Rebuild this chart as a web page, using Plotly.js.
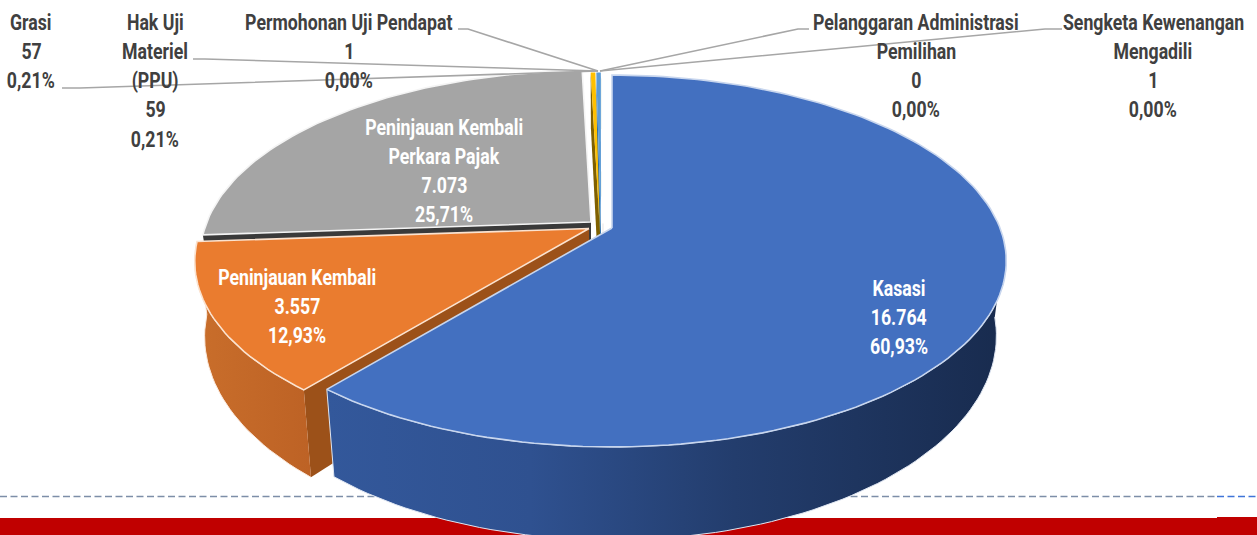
<!DOCTYPE html>
<html><head><meta charset="utf-8">
<script src="https://cdn.plot.ly/plotly-3.0.1.min.js"></script>
<style>html,body{margin:0;padding:0;background:#fff;overflow:hidden}#c{width:1257px;height:535px}</style>
</head><body><div id="c"></div>
<script>
// ---- data ----
const categories = ["Kasasi","Peninjauan Kembali","Peninjauan Kembali Perkara Pajak","Hak Uji Materiel (PPU)","Grasi","Permohonan Uji Pendapat","Pelanggaran Administrasi Pemilihan","Sengketa Kewenangan Mengadili"];
const labelLines = [["Kasasi"],["Peninjauan Kembali"],["Peninjauan Kembali","Perkara Pajak"],["Hak Uji","Materiel","(PPU)"],["Grasi"],["Permohonan Uji Pendapat"],["Pelanggaran Administrasi","Pemilihan"],["Sengketa Kewenangan","Mengadili"]];
const values = [16764,3557,7073,59,57,1,0,1];
const faceColors = ["#4370c0","#ea7c2f","#a5a5a5","#ffc000","#5b9bd5","#70ad47","#264478","#9e480e"];
const cutColors  = ["#2f528f","#9c5119","#3a3a3a","#7f6000","#2e6da4","#4f7a32","#1a2f55","#6f320a"];
// ---- layout of the 3D drawing, in page pixels ----
const apex = [[612,228],[589,228.5],[591,222],[600,233],[601,233],[602,233],[603,233],[604,233]];
const faceScale = [1,1,0.99,1.05,1.05,1.05,1.05,1.05];
const A=388,B=180.1,P=0.1774,DEPTH=71.6,BOTTOM_X=0.975,BOTTOM_Y=1.098;
const labelPos=[[899,288],[297,277],[444,127],[155,22],[31,22],[349,22],[916,22],[1153,22]];
const LINE=29.3;
const TEXT_SQUEEZE=0.805;
const leaders=[null,null,null,[[193,59],[205,59],[598,71]],[[62,88],[80,88],[598,71]],[[458,29],[468,29],[598,71]],[[809,29],[798,29],[600,71]],[[1062,29],[1045,29],[600,71]]];

const total=values.reduce((a,b)=>a+b,0);
const fmtV=v=>String(v).replace(/\B(?=(\d{3})+$)/g,".");
const fmtP=v=>(v/total*100).toFixed(2).replace(".",",")+"%";
const rad=d=>d*Math.PI/180;
function pt(i,deg,sx,sy,dz){const u=Math.sin(rad(deg)),v=Math.cos(rad(deg)),w=1+P*v,f=faceScale[i];
  return [apex[i][0]+A*f*sx*u/w, apex[i][1]+dz-B*f*sy*v/w];}
function arc(i,a0,a1,sx,sy,dz){const n=Math.max(2,Math.ceil(Math.abs(a1-a0)/1.5)),o=[];
  for(let k=0;k<=n;k++)o.push(pt(i,a0+(a1-a0)*k/n,sx,sy,dz));return o;}
function poly(points,extra){return Object.assign({type:"scatter",mode:"lines",x:points.map(p=>p[0]),y:points.map(p=>p[1]),
  fill:"toself",hoverinfo:"skip",showlegend:false},extra);}

let cum=0;const spans=values.map(v=>{const s=[cum,cum+v/total*360];cum=s[1];return s;});
const traces=[];
const order=[7,6,5,4,3,2,1,0];
const sideFill={
 0:{colorscale:[[0,"#33589b"],[0.3,"#2f5190"],[0.6,"#233d6d"],[1,"#182b4e"]],type:"horizontal"},
 1:{colorscale:[[0,"#c96e2b"],[1,"#bd6225"]],type:"horizontal"}
};
order.forEach(i=>{
  const [a0,a1]=spans[i];
  if(i!==0){
    const c=[pt(i,a0,1,1,0),apex[i],[apex[i][0],apex[i][1]+DEPTH],pt(i,a0,BOTTOM_X,BOTTOM_Y,DEPTH)];
    traces.push(poly(c,{name:categories[i]+" cut",fillcolor:cutColors[i],line:{width:0,color:cutColors[i]}}));
  }
  if(i<=1){
    const st=i===0?95:a0;
    const wall=arc(i,st,a1,1,1,0).concat(arc(i,a1,st,BOTTOM_X,BOTTOM_Y,DEPTH));
    traces.push(poly(wall,{name:categories[i]+" wall",fillcolor:i===0?"#2f5190":"#c46829",fillgradient:sideFill[i],
      line:{width:1,color:i===0?"#dfe6f2":"#fbe9dc"}}));
  }
  const face=[apex[i]].concat(arc(i,a0,a1,1,1,0));face.push(apex[i]);
  const edge={0:"#c8d6ee",1:"#fbe3d0",2:"#f4f4f4"}[i];
  traces.push(poly(face,{name:categories[i],fillcolor:faceColors[i],
    line:edge?{width:1.6,color:edge}:{width:0,color:faceColors[i]}}));
});
leaders.forEach(l=>{ if(!l) return;
  traces.push({type:"scatter",mode:"lines",x:l.map(p=>p[0]),y:l.map(p=>p[1]),hoverinfo:"skip",showlegend:false,
    line:{color:"#a6a6a6",width:1.6}});
});
const annotations=[];
categories.forEach((c,i)=>{
  const lines=labelLines[i].concat([fmtV(values[i]),fmtP(values[i])]);
  lines.forEach((t,k)=>annotations.push({xref:"x",yref:"y",x:labelPos[i][0],y:labelPos[i][1]+k*LINE,text:t,
    showarrow:false,xanchor:"center",yanchor:"middle",
    font:{family:"Roboto, 'Liberation Sans', sans-serif",size:22,weight:700,color:i<3?"#ffffff":"#404040"}}));
});
const shapes=[
 {type:"rect",layer:"below",xref:"x",yref:"y",x0:0,x1:1257,y0:518,y1:535,fillcolor:"#c00000",line:{width:0}},
 {type:"rect",layer:"below",xref:"x",yref:"y",x0:1217,x1:1257,y0:517,y1:535,fillcolor:"#c00000",line:{width:0}},
 {type:"line",layer:"below",xref:"x",yref:"y",x0:0,x1:1217,y0:496.5,y1:496.5,line:{color:"#7d8ea8",width:1.3,dash:"7px,3.5px"}},
 {type:"line",layer:"below",xref:"x",yref:"y",x0:1217,x1:1257,y0:496.5,y1:496.5,line:{color:"#3f74d8",width:1.3,dash:"7px,3.5px"}}
];
Plotly.newPlot("c",traces,{
  width:1257,height:535,margin:{l:0,r:0,t:0,b:0,pad:0},paper_bgcolor:"#ffffff",plot_bgcolor:"#ffffff",showlegend:false,
  xaxis:{range:[0,1257],visible:false,fixedrange:true},
  yaxis:{range:[535,0],visible:false,fixedrange:true},
  annotations,shapes,hovermode:false
},{displayModeBar:false,staticPlot:true}).then(()=>{
  document.querySelectorAll("#c .annotation-text").forEach(t=>{
    const cx=parseFloat(t.getAttribute("x"))||0;
    t.setAttribute("transform","translate("+cx+",0) scale("+TEXT_SQUEEZE+",1) translate("+(-cx)+",0)");
  });
});
</script></body></html>
